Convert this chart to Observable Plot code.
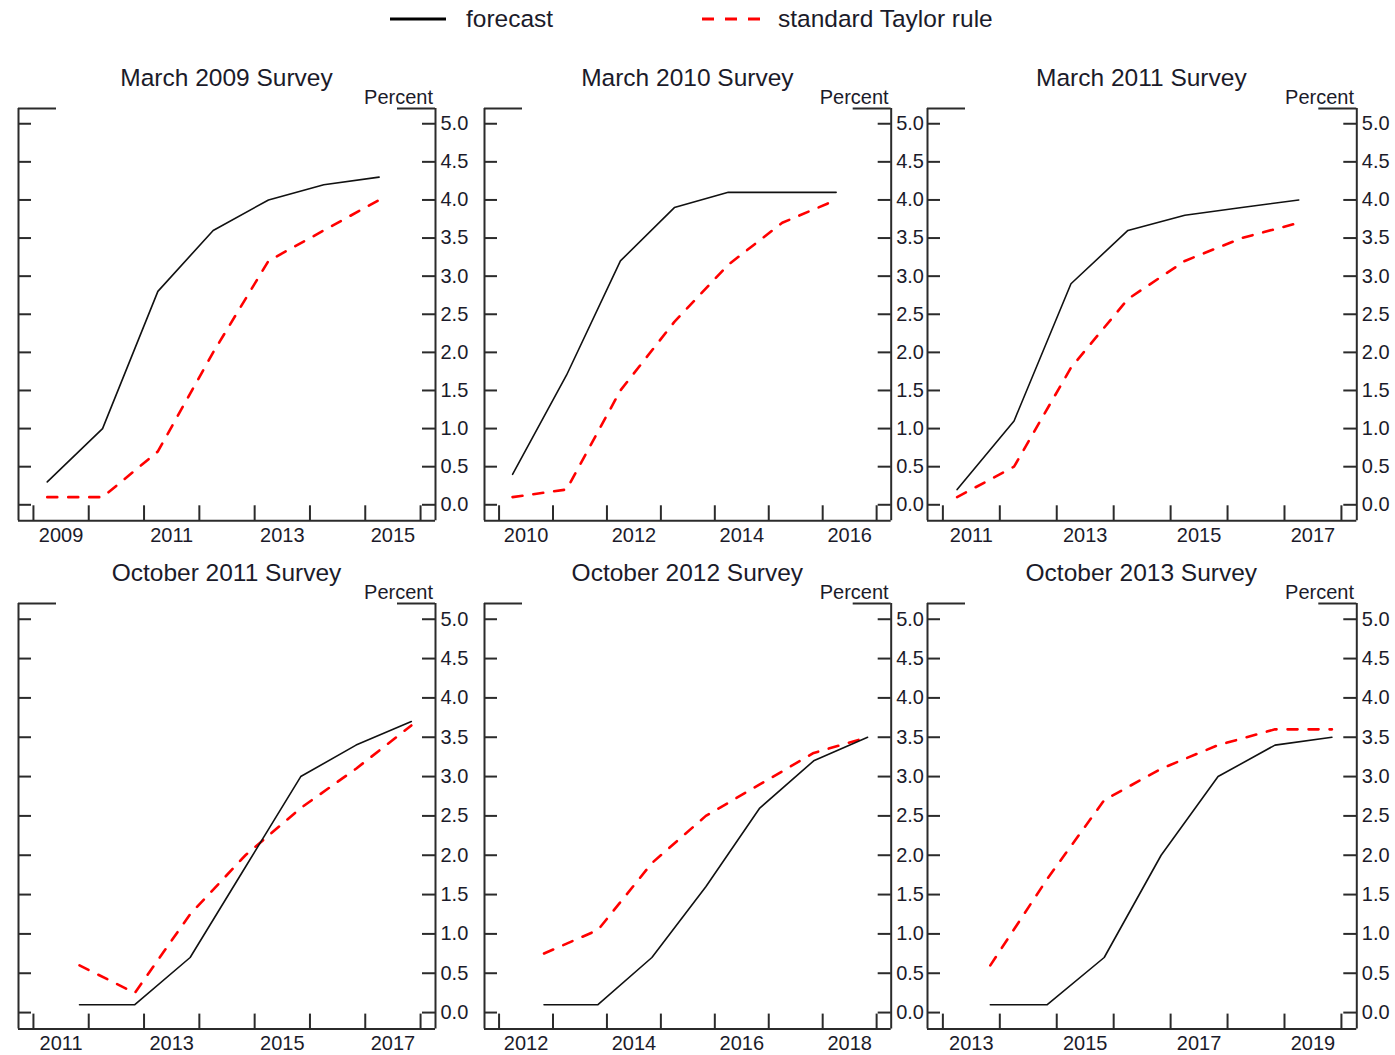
<!DOCTYPE html>
<html><head><meta charset="utf-8">
<script src="https://cdn.jsdelivr.net/npm/d3@7"></script>
<script src="https://cdn.jsdelivr.net/npm/@observablehq/plot@0.6"></script>
<style>
body{margin:0;background:#fff;font-family:"Liberation Sans",Arial,sans-serif;color:#1b1b2a}
#root{position:relative;width:1395px;height:1055px;overflow:hidden;background:#fff}
.abs{position:absolute;white-space:nowrap;line-height:1}
.panel{position:absolute}
.panel svg{max-width:none !important}
</style></head><body><div id="root"></div>
<script>
// ---- data ----
const surveyTitles = ["March 2009 Survey","March 2010 Survey","March 2011 Survey","October 2011 Survey","October 2012 Survey","October 2013 Survey"];
const startYears = [2009, 2010, 2011, 2011, 2012, 2013];
const surveyMonths = [3, 3, 3, 10, 10, 10];
const forecastMar2009 = [0.3, 1.0, 2.8, 3.6, 4.0, 4.2, 4.3];
const taylorMar2009   = [0.1, 0.1, 0.7, 2.0, 3.2, 3.6, 4.0];
const forecastMar2010 = [0.4, 1.7, 3.2, 3.9, 4.1, 4.1, 4.1];
const taylorMar2010   = [0.1, 0.2, 1.5, 2.4, 3.15, 3.7, 4.0];
const forecastMar2011 = [0.2, 1.1, 2.9, 3.6, 3.8, 3.9, 4.0];
const taylorMar2011   = [0.1, 0.5, 1.8, 2.7, 3.2, 3.5, 3.7];
const forecastOct2011 = [0.1, 0.1, 0.7, 1.85, 3.0, 3.4, 3.7];
const taylorOct2011   = [0.6, 0.25, 1.25, 2.0, 2.6, 3.1, 3.65];
const forecastOct2012 = [0.1, 0.1, 0.7, 1.6, 2.6, 3.2, 3.5];
const taylorOct2012   = [0.75, 1.05, 1.9, 2.5, 2.9, 3.3, 3.5];
const forecastOct2013 = [0.1, 0.1, 0.7, 2.0, 3.0, 3.4, 3.5];
const taylorOct2013   = [0.6, 1.7, 2.7, 3.1, 3.4, 3.6, 3.6];
const yTickValues = [0, 0.5, 1, 1.5, 2, 2.5, 3, 3.5, 4, 4.5, 5];
const seriesNames = ["forecast", "standard Taylor rule"];

const forecasts = [forecastMar2009, forecastMar2010, forecastMar2011, forecastOct2011, forecastOct2012, forecastOct2013];
const taylors = [taylorMar2009, taylorMar2010, taylorMar2011, taylorOct2011, taylorOct2012, taylorOct2013];

// ---- layout ----
const cols = [{l:18, r:435}, {l:484, r:890.7}, {l:926.7, r:1356}];
const rows = [{t:107.7, b:520, titleTop:66.4, pctTop:86.6}, {t:602.7, b:1028.3, titleTop:561.4, pctTop:581.6}];
const ml = 3, mr = 38, mt = 3, mb = 26;
const yDomain = [-0.21, 5.2];
const frameColor = "#2b2b2b";
const textColor = "#1b1b2a";

const root = document.getElementById("root");

// legend
const legend = document.createElement("div");
legend.innerHTML = `
<svg class="abs" style="left:0;top:0" width="1395" height="40">
  <line x1="390" x2="446" y1="19" y2="19" stroke="#000" stroke-width="3"/>
  <line x1="702" x2="760" y1="19" y2="19" stroke="#ff0000" stroke-width="3" stroke-dasharray="12,11"/>
</svg>
<div class="abs" style="left:466px;top:7px;font-size:24.5px;color:${textColor}">${seriesNames[0]}</div>
<div class="abs" style="left:778px;top:7px;font-size:24.5px;color:${textColor}">${seriesNames[1]}</div>`;
root.appendChild(legend);

for (let i = 0; i < 6; i++) {
  const c = cols[i % 3], r = rows[Math.floor(i / 3)];
  const y0 = startYears[i];
  const offset = surveyMonths[i] / 12;
  const pw = c.r - c.l, ph = r.b - r.t;
  const xDomain = [y0 - 0.27, y0 + 7.27];
  const kx = pw / (xDomain[1] - xDomain[0]);
  const ky = ph / (yDomain[1] - yDomain[0]);
  const tickLenY = 13 / kx, capLen = 38 / kx, tickLenX = 15 / ky;
  const yearTicks = d3.range(y0, y0 + 8);
  const labelYears = [y0, y0 + 2, y0 + 4, y0 + 6];
  const fc = forecasts[i].map((v, k) => ({x: y0 + k + offset, y: v}));
  const tr = taylors[i].map((v, k) => ({x: y0 + k + offset, y: v}));
  const W = ml + pw + mr, H = mt + ph + mb;

  const chart = Plot.plot({
    width: W,
    height: H,
    marginLeft: ml, marginRight: mr, marginTop: mt, marginBottom: mb,
    style: {fontSize: "20px", fontFamily: '"Liberation Sans", Arial, sans-serif', color: textColor, background: "transparent", overflow: "visible", maxWidth: "none"},
    x: {domain: xDomain, axis: null},
    y: {domain: yDomain, axis: null},
    marks: [
      // frame
      Plot.ruleX([xDomain[0], xDomain[1]], {stroke: frameColor, strokeWidth: 2}),
      Plot.ruleY([yDomain[0]], {stroke: frameColor, strokeWidth: 2}),
      Plot.ruleY([yDomain[1]], {x1: xDomain[0], x2: xDomain[0] + capLen, stroke: frameColor, strokeWidth: 2}),
      Plot.ruleY([yDomain[1]], {x1: xDomain[1] - capLen, x2: xDomain[1], stroke: frameColor, strokeWidth: 2}),
      // inward y ticks
      Plot.ruleY(yTickValues, {x1: xDomain[0], x2: xDomain[0] + tickLenY, stroke: frameColor, strokeWidth: 2}),
      Plot.ruleY(yTickValues, {x1: xDomain[1] - tickLenY, x2: xDomain[1], stroke: frameColor, strokeWidth: 2}),
      // year ticks
      Plot.ruleX(yearTicks, {y1: yDomain[0], y2: yDomain[0] + tickLenX, stroke: frameColor, strokeWidth: 2}),
      // labels
      Plot.axisY({anchor: "right", label: null, ticks: yTickValues, tickSize: 0, tickPadding: 5, tickFormat: d3.format(".1f")}),
      Plot.axisX({anchor: "bottom", label: null, ticks: labelYears.map(y => y + 0.5), tickSize: 0, tickPadding: 7, tickFormat: d => String(Math.floor(d))}),
      // data
      Plot.line(tr, {x: "x", y: "y", stroke: "#ff0000", strokeWidth: 2.6, strokeDasharray: "10,11"}),
      Plot.line(fc, {x: "x", y: "y", stroke: "#111", strokeWidth: 1.6})
    ]
  });
  const wrap = document.createElement("div");
  wrap.className = "panel";
  wrap.style.left = (c.l - ml) + "px";
  wrap.style.top = (r.t - mt) + "px";
  wrap.style.width = W + "px";
  wrap.style.height = H + "px";
  wrap.appendChild(chart);
  root.appendChild(wrap);

  const title = document.createElement("div");
  title.className = "abs";
  title.style.cssText = `left:${c.l}px;width:${pw}px;text-align:center;top:${r.titleTop}px;font-size:24.5px;color:${textColor}`;
  title.textContent = surveyTitles[i];
  root.appendChild(title);

  const pct = document.createElement("div");
  pct.className = "abs";
  pct.style.cssText = `left:${c.l}px;width:${pw - 2}px;text-align:right;top:${r.pctTop}px;font-size:20px;color:${textColor}`;
  pct.textContent = "Percent";
  root.appendChild(pct);
}
</script></body></html>
